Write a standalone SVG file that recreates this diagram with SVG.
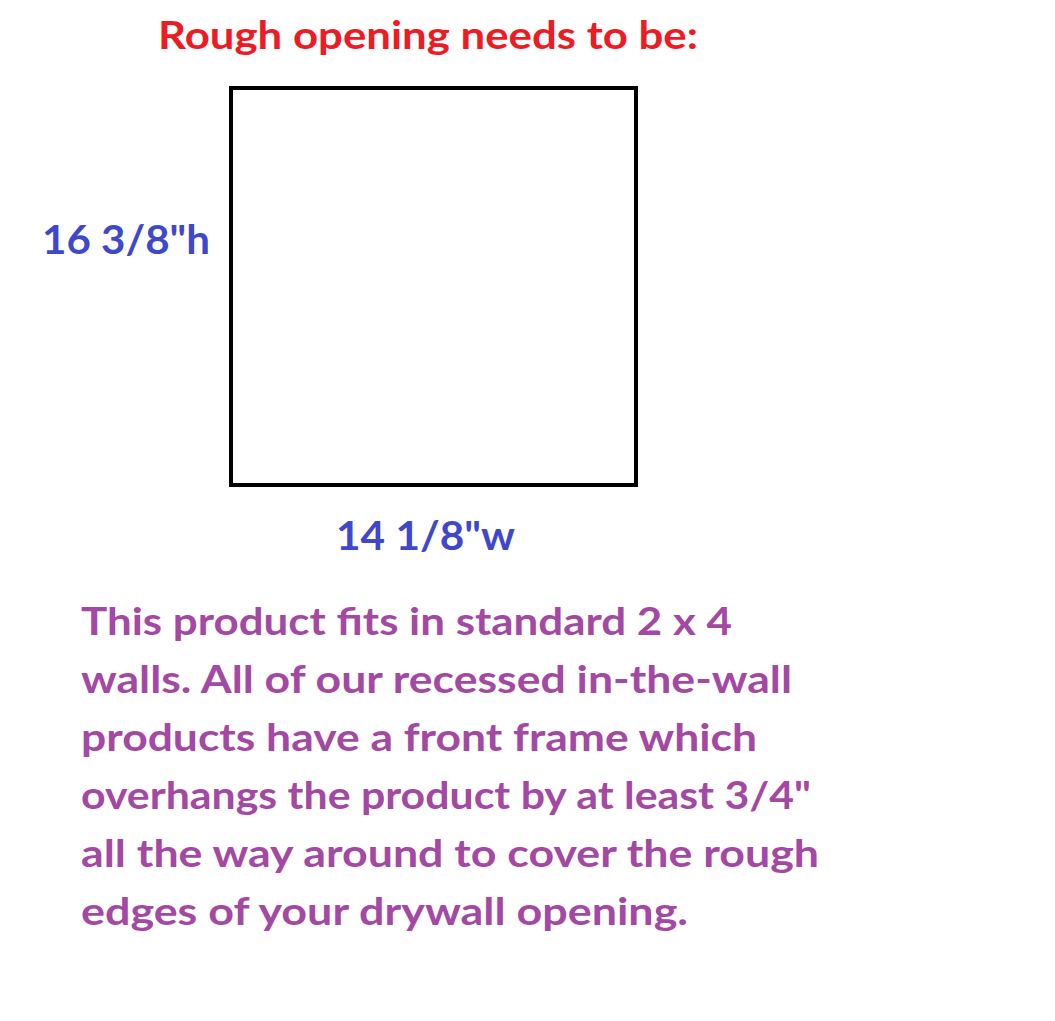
<svg xmlns="http://www.w3.org/2000/svg" width="1055" height="1021" viewBox="0 0 1055 1021">
  <style>
    text { font-family: Lato, "Open Sans", "Liberation Sans", sans-serif; font-weight: bold; }
    .title { fill: #ED1C24; font-size: 39px; }
    .dim { fill: #3F48CC; font-size: 40px; }
    .note { fill: #A349A4; font-size: 38.5px; }
    .box { fill: #FFFFFF; stroke: #000000; stroke-width: 4; }
  </style>
  <rect width="1055" height="1021" fill="#FFFFFF"/>
  <g id="title">
    <text class="title" x="158" y="49" textLength="540" lengthAdjust="spacingAndGlyphs">Rough opening needs to be:</text>
  </g>
  <g id="opening">
    <rect class="box" x="231" y="88" width="405" height="397"/>
  </g>
  <g id="height-label">
    <text class="dim" x="42" y="254" textLength="168" lengthAdjust="spacingAndGlyphs">16 3/8"h</text>
  </g>
  <g id="width-label">
    <text class="dim" x="336" y="550" textLength="179" lengthAdjust="spacingAndGlyphs">14 1/8"w</text>
  </g>
  <g id="note">
    <text class="note" x="81" y="635" textLength="651" lengthAdjust="spacingAndGlyphs">This product fits in standard 2 x 4</text>
    <text class="note" x="81" y="693" textLength="711" lengthAdjust="spacingAndGlyphs">walls. All of our recessed in-the-wall</text>
    <text class="note" x="81" y="751" textLength="676" lengthAdjust="spacingAndGlyphs">products have a front frame which</text>
    <text class="note" x="81" y="809" textLength="730" lengthAdjust="spacingAndGlyphs">overhangs the product by at least 3/4"</text>
    <text class="note" x="81" y="867" textLength="738" lengthAdjust="spacingAndGlyphs">all the way around to cover the rough</text>
    <text class="note" x="81" y="925" textLength="607" lengthAdjust="spacingAndGlyphs">edges of your drywall opening.</text>
  </g>
</svg>
